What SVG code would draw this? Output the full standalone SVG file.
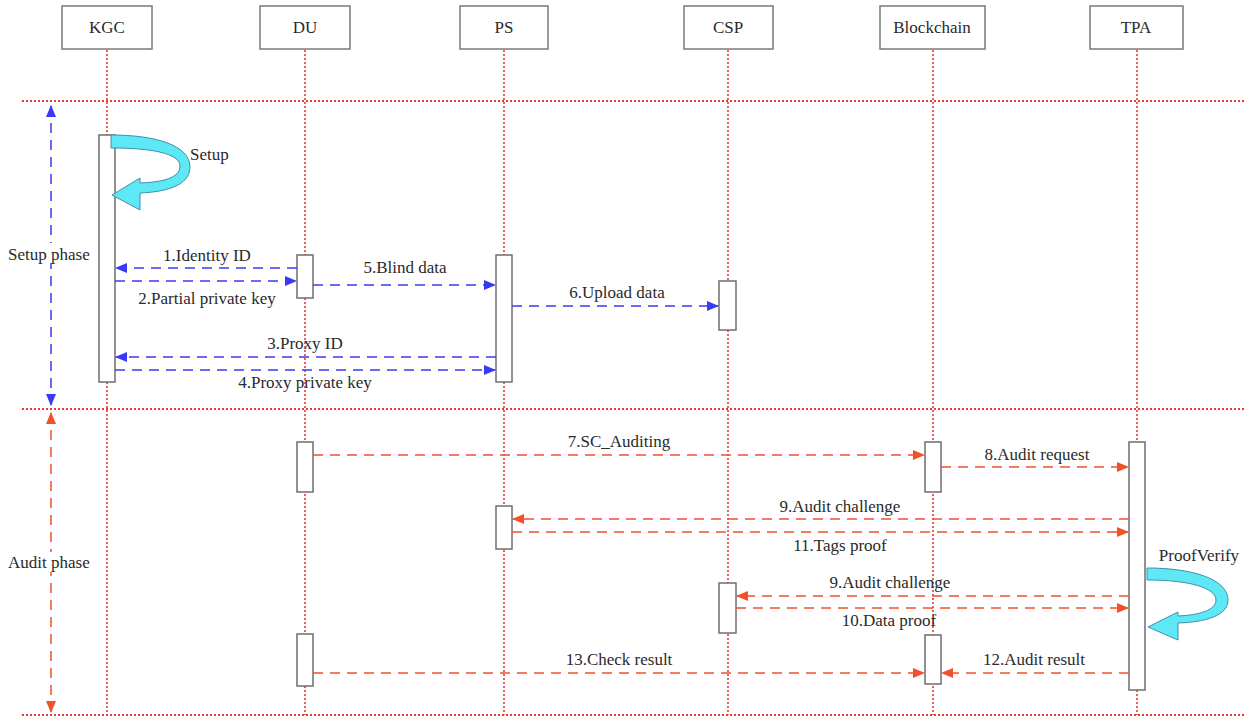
<svg xmlns="http://www.w3.org/2000/svg" width="1253" height="718" viewBox="0 0 1253 718">
<style>
.box{fill:#fff;stroke:#7a7a7a;stroke-width:1.5}
.act{fill:#fff;stroke:#6e6e6e;stroke-width:1.5}
.life{stroke:#e33b3b;stroke-width:1.6;stroke-dasharray:2,2;fill:none}
.sep{stroke:#e33b3b;stroke-width:1.8;stroke-dasharray:2,2;fill:none}
.b{stroke:#3a3af5;stroke-width:1.5;stroke-dasharray:10,7;fill:none}
.r{stroke:#f2502a;stroke-width:1.5;stroke-dasharray:10,7;fill:none}
.t{font-family:'Liberation Serif','DejaVu Serif',serif;font-size:17px;fill:#2a2a2a;text-anchor:middle}
.l{font-family:'Liberation Serif','DejaVu Serif',serif;font-size:17px;fill:#2a2a2a}
.h{font-family:'Liberation Serif','DejaVu Serif',serif;font-size:17px;fill:#2a2a2a;text-anchor:middle}
.self{fill:#5ee8f5;stroke:#3d8fb0;stroke-width:1}
</style>
<defs>
<marker id="ab" markerWidth="12" markerHeight="10" refX="11" refY="5" orient="auto-start-reverse" markerUnits="userSpaceOnUse"><path d="M0,0 L12,5 L0,10 Z" fill="#3a3af5"/></marker>
<marker id="ar" markerWidth="12" markerHeight="10" refX="11" refY="5" orient="auto-start-reverse" markerUnits="userSpaceOnUse"><path d="M0,0 L12,5 L0,10 Z" fill="#f2502a"/></marker>
</defs>

<g id="separators">
<line class="sep" x1="22" y1="101" x2="1246" y2="101"/>
<line class="sep" x1="22" y1="409" x2="1246" y2="409"/>
<line class="sep" x1="22" y1="715" x2="1246" y2="715"/>
</g>

<g id="lifelines">
<line class="life" x1="107" y1="50" x2="107" y2="715"/>
<line class="life" x1="305" y1="50" x2="305" y2="715"/>
<line class="life" x1="504" y1="50" x2="504" y2="715"/>
<line class="life" x1="728" y1="50" x2="728" y2="715"/>
<line class="life" x1="933" y1="50" x2="933" y2="715"/>
<line class="life" x1="1137" y1="50" x2="1137" y2="715"/>
</g>

<g id="KGC"><rect class="box" x="62" y="6" width="90" height="43"/><text class="h" x="107" y="33">KGC</text></g>
<g id="DU"><rect class="box" x="260" y="6" width="90" height="43"/><text class="h" x="305" y="33">DU</text></g>
<g id="PS"><rect class="box" x="460" y="6" width="88" height="43"/><text class="h" x="504" y="33">PS</text></g>
<g id="CSP"><rect class="box" x="684" y="6" width="89" height="43"/><text class="h" x="728" y="33">CSP</text></g>
<g id="Blockchain"><rect class="box" x="880" y="6" width="105" height="43"/><text class="h" x="932" y="33">Blockchain</text></g>
<g id="TPA"><rect class="box" x="1090" y="6" width="93" height="43"/><text class="h" x="1136" y="33">TPA</text></g>

<g id="activations">
<rect class="act" x="99" y="135" width="16" height="247"/>
<rect class="act" x="297" y="255" width="16" height="43"/>
<rect class="act" x="496" y="255" width="16" height="127"/>
<rect class="act" x="719" y="281" width="17" height="49"/>
<rect class="act" x="297" y="442" width="16" height="50"/>
<rect class="act" x="925" y="442" width="16" height="50"/>
<rect class="act" x="1129" y="442" width="16" height="248"/>
<rect class="act" x="496" y="506" width="16" height="43"/>
<rect class="act" x="719" y="583" width="17" height="50"/>
<rect class="act" x="925" y="635" width="16" height="49"/>
<rect class="act" x="297" y="634" width="16" height="52"/>
</g>

<g id="Setup">
<path class="self" d="M111,135 C155,135 190,145 190,167 C190,186 165,192 140,193 L140,210 L112,195 L140,178 L140,183 C163,182 180,178 180,166 C180,153 150,148 111,148 Z"/>
<text class="l" x="190" y="160">Setup</text>
</g>

<g id="ProofVerify">
<path class="self" d="M1147,568 C1195,568 1228,580 1228,600 C1228,616 1205,622 1178,623 L1178,640 L1148,627 L1178,612 L1178,616 C1200,615 1216,610 1216,600 C1216,588 1190,580 1147,580 Z"/>
<text class="t" x="1199" y="561">ProofVerify</text>
</g>

<g id="phases">
<line class="b" x1="51" y1="106" x2="51" y2="405" marker-start="url(#ab)" marker-end="url(#ab)"/>
<line class="r" x1="51" y1="413" x2="51" y2="712" marker-start="url(#ar)" marker-end="url(#ar)"/>
<rect x="6" y="243" width="90" height="20" fill="#fff"/>
<text class="l" x="8" y="260">Setup phase</text>
<rect x="6" y="552" width="90" height="20" fill="#fff"/>
<text class="l" x="8" y="568">Audit phase</text>
</g>

<g id="connectors">
<line class="b" x1="297" y1="268" x2="116" y2="268" marker-end="url(#ab)"/>
<line class="b" x1="115" y1="281" x2="296" y2="281" marker-end="url(#ab)"/>
<line class="b" x1="313" y1="285" x2="495" y2="285" marker-end="url(#ab)"/>
<line class="b" x1="512" y1="306" x2="718" y2="306" marker-end="url(#ab)"/>
<line class="b" x1="496" y1="357" x2="116" y2="357" marker-end="url(#ab)"/>
<line class="b" x1="115" y1="370" x2="495" y2="370" marker-end="url(#ab)"/>
<line class="r" x1="313" y1="455" x2="924" y2="455" marker-end="url(#ar)"/>
<line class="r" x1="941" y1="467" x2="1128" y2="467" marker-end="url(#ar)"/>
<line class="r" x1="1129" y1="519" x2="513" y2="519" marker-end="url(#ar)"/>
<line class="r" x1="512" y1="532" x2="1128" y2="532" marker-end="url(#ar)"/>
<line class="r" x1="1129" y1="596" x2="737" y2="596" marker-end="url(#ar)"/>
<line class="r" x1="736" y1="608" x2="1128" y2="608" marker-end="url(#ar)"/>
<line class="r" x1="313" y1="673" x2="924" y2="673" marker-end="url(#ar)"/>
<line class="r" x1="1129" y1="673" x2="942" y2="673" marker-end="url(#ar)"/>
</g>

<g id="labels">
<text class="t" x="207" y="261">1.Identity ID</text>
<text class="t" x="207" y="304">2.Partial private key</text>
<text class="t" x="405" y="273">5.Blind data</text>
<text class="t" x="617" y="298">6.Upload data</text>
<text class="t" x="305" y="349">3.Proxy ID</text>
<text class="t" x="305" y="388">4.Proxy private key</text>
<text class="t" x="619" y="447">7.SC_Auditing</text>
<text class="t" x="1037" y="460">8.Audit request</text>
<text class="t" x="840" y="512">9.Audit challenge</text>
<text class="t" x="840" y="551">11.Tags proof</text>
<text class="t" x="890" y="588">9.Audit challenge</text>
<text class="t" x="889" y="626">10.Data proof</text>
<text class="t" x="619" y="665">13.Check result</text>
<text class="t" x="1034" y="665">12.Audit result</text>
</g>
</svg>
